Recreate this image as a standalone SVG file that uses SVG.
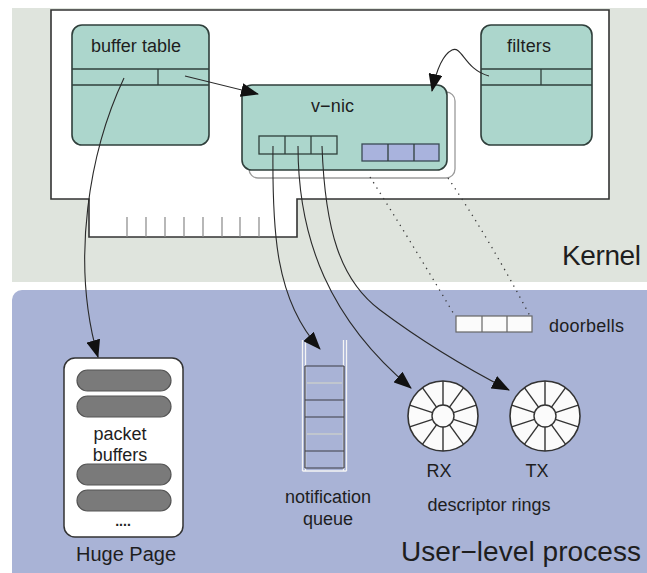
<svg xmlns="http://www.w3.org/2000/svg" width="647" height="573" viewBox="0 0 647 573">
  <style>
    text { font-family: "Liberation Sans", Arial, sans-serif; fill: #1e1e1e; }
    .lbl { font-size: 18px; }
    .big { font-size: 28px; }
    .box { fill: #acd6cc; stroke: #2f3f3b; stroke-width: 1.6; }
    .cell { fill: none; stroke: #2f3f3b; stroke-width: 1.3; }
    .conn { fill: none; stroke: #2a2a2a; stroke-width: 1.1; }
    .dots { fill: none; stroke: #3a3a3a; stroke-width: 1.3; stroke-dasharray: 1.3 5; }
    .pill { fill: #7a7a7a; stroke: #555; stroke-width: 1.2; }
    .spoke { stroke: #333; stroke-width: 1.4; }
  </style>
  <defs>
    <marker id="arrow" viewBox="0 0 18 14" refX="17" refY="7" markerWidth="18" markerHeight="14" markerUnits="userSpaceOnUse" orient="auto">
      <path d="M0,0 L18,7 L0,14 Z" fill="#111"/>
    </marker>
    <g id="ring">
      <circle r="35" fill="#fbfbfb" stroke="#333" stroke-width="1.6"/>
      <g class="spoke">
        <line x1="0" y1="-11" x2="0" y2="-35"/>
        <line x1="0" y1="11" x2="0" y2="35"/>
        <line x1="6.5" y1="-8.9" x2="20.6" y2="-28.3"/>
        <line x1="-6.5" y1="-8.9" x2="-20.6" y2="-28.3"/>
        <line x1="6.5" y1="8.9" x2="20.6" y2="28.3"/>
        <line x1="-6.5" y1="8.9" x2="-20.6" y2="28.3"/>
        <line x1="10.5" y1="-3.4" x2="33.3" y2="-10.8"/>
        <line x1="-10.5" y1="-3.4" x2="-33.3" y2="-10.8"/>
        <line x1="10.5" y1="3.4" x2="33.3" y2="10.8"/>
        <line x1="-10.5" y1="3.4" x2="-33.3" y2="10.8"/>
      </g>
      <circle r="11" fill="#fbfbfb" stroke="#333" stroke-width="1.4"/>
    </g>
  </defs>

  <!-- background regions -->
  <rect width="647" height="573" fill="#ffffff"/>
  <rect x="12" y="8" width="640" height="274" fill="#dfe4dd"/>
  <rect x="12" y="290" width="645" height="300" rx="10" fill="#a9b3d6"/>
  <text class="big" x="562" y="265" textLength="79">Kernel</text>
  <text class="big" x="401" y="561" textLength="240">User−level process</text>

  <!-- NIC card -->
  <g id="nic-card">
    <path d="M51,10 H609 V199 H297 V237 H89 V199 H51 Z" fill="#ffffff" stroke="#333" stroke-width="1.6"/>
    <g stroke="#888" stroke-width="1.2">
      <line x1="127" y1="217" x2="127" y2="237"/>
      <line x1="146" y1="217" x2="146" y2="237"/>
      <line x1="165" y1="217" x2="165" y2="237"/>
      <line x1="184" y1="217" x2="184" y2="237"/>
      <line x1="203" y1="217" x2="203" y2="237"/>
      <line x1="222" y1="217" x2="222" y2="237"/>
      <line x1="240" y1="217" x2="240" y2="237"/>
      <line x1="259" y1="217" x2="259" y2="237"/>
    </g>
  </g>

  <g id="buffer-table">
    <rect class="box" x="72" y="25" width="137" height="120" rx="10"/>
    <line class="cell" x1="72" y1="69" x2="209" y2="69"/>
    <line class="cell" x1="72" y1="85" x2="209" y2="85"/>
    <line class="cell" x1="158" y1="69" x2="158" y2="85"/>
    <text class="lbl" x="91" y="52" textLength="90">buffer table</text>
  </g>

  <g id="filters">
    <rect class="box" x="481" y="25" width="111" height="120" rx="10"/>
    <line class="cell" x1="481" y1="69" x2="592" y2="69"/>
    <line class="cell" x1="481" y1="85" x2="592" y2="85"/>
    <line class="cell" x1="541" y1="69" x2="541" y2="85"/>
    <text class="lbl" x="507" y="52" textLength="44">filters</text>
  </g>

  <g id="v-nic">
    <rect x="249" y="92" width="206" height="86" rx="9" fill="#ffffff" stroke="#9a9a9a" stroke-width="1.3"/>
    <rect class="box" x="242" y="85" width="205" height="85" rx="10"/>
    <text class="lbl" x="311" y="112" textLength="43">v−nic</text>
    <rect class="cell" x="259" y="136" width="78" height="18"/>
    <line class="cell" x1="285" y1="136" x2="285" y2="154"/>
    <line class="cell" x1="311" y1="136" x2="311" y2="154"/>
    <rect x="362" y="144" width="77" height="17" fill="#a9b3dd" stroke="#3a4a55" stroke-width="1.3"/>
    <line class="cell" x1="388" y1="144" x2="388" y2="161"/>
    <line class="cell" x1="414" y1="144" x2="414" y2="161"/>
  </g>

  <g id="doorbells">
    <rect x="456" y="316" width="76" height="16" fill="#fbfbfb" stroke="#666" stroke-width="1.2"/>
    <line x1="482" y1="316" x2="482" y2="332" stroke="#666" stroke-width="1.2"/>
    <line x1="507" y1="316" x2="507" y2="332" stroke="#666" stroke-width="1.2"/>
    <text class="lbl" x="549" y="332" textLength="75">doorbells</text>
  </g>

  <g id="huge-page">
    <rect x="64" y="358" width="119" height="179" rx="11" fill="#ffffff" stroke="#333" stroke-width="1.5"/>
    <rect class="pill" x="77" y="370" width="94" height="21" rx="10.5"/>
    <rect class="pill" x="77" y="396" width="94" height="21" rx="10.5"/>
    <text class="lbl" x="120" y="440" text-anchor="middle">packet</text>
    <text class="lbl" x="120" y="461" text-anchor="middle">buffers</text>
    <rect class="pill" x="77" y="464" width="94" height="21" rx="10.5"/>
    <rect class="pill" x="77" y="490" width="94" height="21" rx="10.5"/>
    <text x="123" y="526" font-size="14" font-weight="bold" text-anchor="middle" fill="#444">....</text>
    <text x="126" y="561" font-size="20" text-anchor="middle">Huge Page</text>
  </g>

  <g id="notification-queue">
    <g stroke="#f4f4f4" stroke-width="1.3">
      <line x1="302.5" y1="340" x2="302.5" y2="471"/>
      <line x1="305.5" y1="340" x2="305.5" y2="471"/>
      <line x1="343.5" y1="340" x2="343.5" y2="471"/>
      <line x1="346.5" y1="340" x2="346.5" y2="471"/>
      <line x1="302.5" y1="471" x2="346.5" y2="471"/>
    </g>
    <g stroke="#3c3c44" stroke-width="1.2">
      <line x1="305" y1="366" x2="344" y2="366"/>
      <line x1="305" y1="400" x2="344" y2="400"/>
      <line x1="305" y1="417" x2="344" y2="417"/>
      <line x1="305" y1="451" x2="344" y2="451"/>
      <line x1="305" y1="468" x2="344" y2="468"/>
      <line x1="305" y1="366" x2="305" y2="468"/>
      <line x1="344" y1="366" x2="344" y2="468"/>
    </g>
    <g stroke="#d8dac8" stroke-width="1.2">
      <line x1="307" y1="383" x2="342" y2="383"/>
      <line x1="307" y1="434" x2="342" y2="434"/>
    </g>
    <text class="lbl" x="328" y="503" text-anchor="middle">notification</text>
    <text class="lbl" x="328" y="525" text-anchor="middle">queue</text>
  </g>

  <g id="rx-ring">
    <use href="#ring" x="443" y="416"/>
    <text class="lbl" x="439" y="477" text-anchor="middle">RX</text>
  </g>
  <g id="tx-ring">
    <use href="#ring" x="545" y="416"/>
    <text class="lbl" x="537" y="477" text-anchor="middle">TX</text>
  </g>
  <text class="lbl" x="489" y="511" text-anchor="middle">descriptor rings</text>

  <!-- connectors -->
  <g id="connectors">
    <path class="conn" d="M124,78 C90,150 70,260 98,357" marker-end="url(#arrow)"/>
    <path class="conn" d="M185,76 L258,94" marker-end="url(#arrow)"/>
    <path class="conn" d="M489,76 C465,70 462,45 452,50 C442,55 436,72 432,91" marker-end="url(#arrow)"/>
    <path class="conn" d="M273,146 C272,230 275,300 320,349" marker-end="url(#arrow)"/>
    <path class="conn" d="M298,146 C298,240 330,320 411,388" marker-end="url(#arrow)"/>
    <path class="conn" d="M322,146 C325,230 340,280 380,310 C420,340 470,370 509,390" marker-end="url(#arrow)"/>
    <path class="dots" d="M370,177 Q410,240 455,316"/>
    <path class="dots" d="M448,178 Q490,240 530,316"/>
  </g>
</svg>
